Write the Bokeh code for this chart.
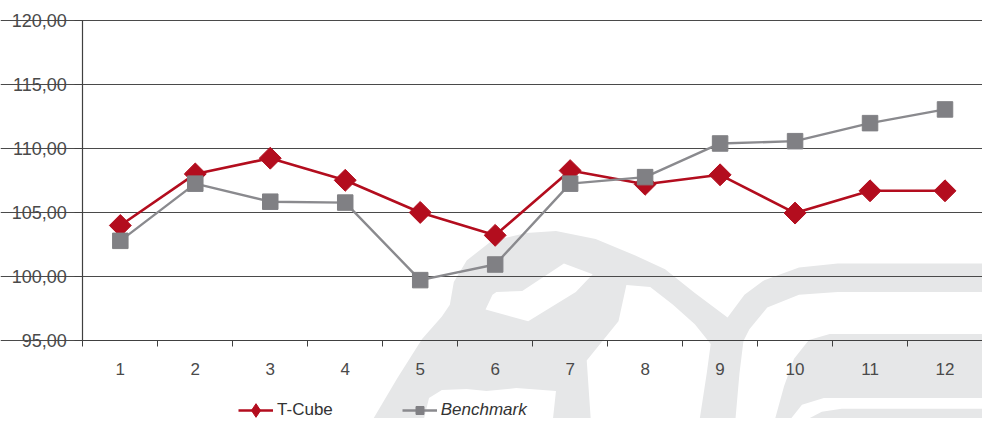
import math
from bokeh.plotting import figure
from bokeh.models import LinearAxis, FixedTicker, Grid, Range1d, Legend, LegendItem
from bokeh.embed import file_html
from bokeh.resources import INLINE

# ---------------- data ----------------
periods = ["1", "2", "3", "4", "5", "6", "7", "8", "9", "10", "11", "12"]
t_cube = [103.95, 107.98, 109.21, 107.48, 104.97, 103.18, 108.24, 107.17, 107.91, 104.92, 106.66, 106.66]
benchmark = [102.75, 107.22, 105.81, 105.74, 99.68, 100.90, 107.22, 107.73, 110.36, 110.54, 111.95, 113.02]
y_ticks = [95, 100, 105, 110, 115, 120]
y_tick_labels = ["95,00", "100,00", "105,00", "110,00", "115,00", "120,00"]
series_names = ["T-Cube", "Benchmark"]

x_pos = list(range(1, len(periods) + 1))

# ---------------- layout ----------------
W, H = 982, 418
SX, SY = W / 990.0, H / 426.0          # design grid of 990 x 426 mapped on the canvas
AX_LEFT = 83 * SX                      # x of the value axis
AX_BOTTOM = 346 * SY                   # y of the category axis
AX_TOP = 20 * SY                       # y of the top gridline
LEGEND_MID = 417.5 * SY                # vertical centre of the legend row
n = len(periods)
ux = (W - AX_LEFT) / n
uy = (AX_BOTTOM - AX_TOP) / (y_ticks[-1] - y_ticks[0])
x_start = 0.5 - AX_LEFT / ux
x_end = n + 0.5
y_end = y_ticks[-1] + AX_TOP / uy
y_start = y_ticks[0] - (H - AX_BOTTOM) / uy

RED = "#b30d1e"
GRAY_M = "#808084"
GRAY_L = "#8a8a8e"
TXT = "#4a4a4a"
FONT = "Liberation Sans"

p = figure(width=W, height=H, x_range=Range1d(x_start, x_end), y_range=Range1d(y_start, y_end),
           x_axis_type=None, y_axis_type=None, toolbar_location=None,
           output_backend="svg", min_border=0)
p.outline_line_color = None
p.background_fill_color = "white"
p.border_fill_color = "white"

# ---------------- watermark (decoration, outline on the 990x426 design grid) ----------------
def to_data(pts):
    xs = [x_start + (px * SX) / ux for px, py in pts]
    ys = [y_end - (py * SY) / uy for px, py in pts]
    return xs, ys

logo = [(376, 426), (400, 385), (425, 345), (445, 322), (453, 310), (457, 287), (470, 265), (495, 245),
        (530, 237), (560, 235), (600, 243), (640, 260), (670, 274), (700, 298), (733, 323),
        (750, 300), (770, 285), (805, 272), (844, 268), (990, 268), (990, 297), (844, 297), (805, 300),
        (773, 313), (755, 335), (749, 347), (745, 380), (741, 426),
        (705, 426), (712, 380), (716, 350), (700, 330), (678, 310), (655, 292), (631, 290),
        (623, 327), (591, 367), (595, 426),
        (557, 426), (560, 398), (520, 395), (490, 398), (470, 396), (445, 397), (432, 405), (427, 426)]
block_a = [(781, 426), (790, 393), (800, 365), (815, 346), (836, 340), (990, 340), (990, 405),
           (830, 405), (808, 412), (797, 426)]
block_b = [(815, 426), (828, 419), (848, 416), (990, 416), (990, 426)]
hole = [(500, 297), (526, 296), (568, 268), (597, 279), (580, 297), (532, 327), (489, 315), (496, 300)]

wm_xs, wm_ys = [], []
for shape in (logo, block_a, block_b):
    xs, ys = to_data(shape)
    wm_xs.append(xs)
    wm_ys.append(ys)
p.patches(wm_xs, wm_ys, fill_color="#e6e7e8", line_color=None, level="image")
hx, hy = to_data(hole)
p.patch(hx, hy, fill_color="white", line_color=None, level="image")

# ---------------- axes & grid ----------------
ytick = FixedTicker(ticks=y_ticks)
yaxis = LinearAxis(ticker=ytick, fixed_location=0.5, bounds=(y_ticks[0], y_ticks[-1]))
yaxis.major_label_overrides = {t: lab for t, lab in zip(y_ticks, y_tick_labels)}
yaxis.axis_line_color = "#404040"
yaxis.axis_line_width = 1.2
yaxis.major_tick_line_color = "#404040"
yaxis.major_tick_in = 0
yaxis.major_tick_out = 8
yaxis.minor_tick_line_color = None
yaxis.major_label_standoff = 8
yaxis.major_label_text_font = FONT
yaxis.major_label_text_font_size = "18px"
yaxis.major_label_text_color = TXT
p.add_layout(yaxis, "left")

xtick = FixedTicker(ticks=x_pos, minor_ticks=[i + 0.5 for i in range(0, n + 1)])
xaxis = LinearAxis(ticker=xtick, fixed_location=y_ticks[0], bounds=(0.5, n + 0.5))
xaxis.major_label_overrides = {x: lab for x, lab in zip(x_pos, periods)}
xaxis.axis_line_color = "#404040"
xaxis.axis_line_width = 1.2
xaxis.major_tick_line_color = None
xaxis.major_tick_in = 0
xaxis.major_tick_out = 0
xaxis.minor_tick_line_color = "#404040"
xaxis.minor_tick_in = 0
xaxis.minor_tick_out = 6
xaxis.major_label_standoff = 17
xaxis.major_label_text_font = FONT
xaxis.major_label_text_font_size = "17px"
xaxis.major_label_text_color = TXT
p.add_layout(xaxis, "below")

grid = Grid(dimension=1, ticker=ytick, bounds=(0.5, n + 0.5))
grid.grid_line_color = "#4a4a4a"
grid.grid_line_width = 1.2
p.add_layout(grid, "center")

# ---------------- series ----------------
l1 = p.line(x_pos, t_cube, line_color=RED, line_width=2.6)
m1 = p.scatter(x_pos, t_cube, marker="square", size=15.5, angle=math.pi / 4,
               fill_color=RED, line_color=RED)
l2 = p.line(x_pos, benchmark, line_color=GRAY_L, line_width=2.4)
m2 = p.scatter(x_pos, benchmark, marker="square", size=15.5, fill_color=GRAY_M, line_color=GRAY_M)

# legend sample for the diamond (legend swatches ignore marker rotation); kept outside the view
m1_key = p.scatter([x_start - 10], [y_start - 10], marker="diamond", size=14,
                   fill_color=RED, line_color=RED)

# ---------------- legends ----------------
def make_legend(label, rends, x, gh, italic=False):
    bottom = LEGEND_MID + gh / 2.0
    lg = Legend(items=[LegendItem(label=label, renderers=rends)], location=(x, H - bottom),
                orientation="horizontal")
    lg.padding = 0
    lg.margin = 0
    lg.spacing = 0
    lg.glyph_width = 35
    lg.glyph_height = gh
    lg.label_height = gh
    lg.label_standoff = 4
    lg.label_text_font = FONT
    lg.label_text_font_size = "17px"
    lg.label_text_color = "#333333"
    if italic:
        lg.label_text_font_style = "italic"
    lg.border_line_color = None
    lg.background_fill_alpha = 0
    return lg

p.add_layout(make_legend(series_names[0], [l1, m1_key], 240 * SX, 34))
p.add_layout(make_legend(series_names[1], [l2, m2], 405 * SX, 20, italic=True))

open("out.html", "w").write(file_html(p, INLINE))
